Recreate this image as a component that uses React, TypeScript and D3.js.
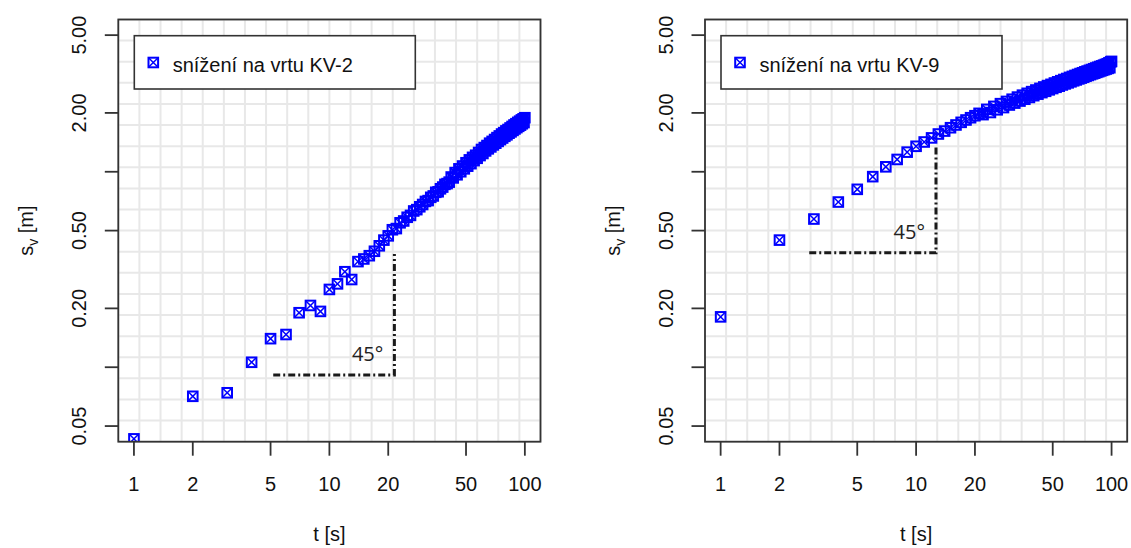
import React from "react";
import * as d3 from "d3";

// ---- data ----
const times: number[] = d3.range(1, 101);

const kv2Values: number[] = [
  0.043, 0.071, 0.074, 0.106, 0.140, 0.147, 0.190, 0.207, 0.193, 0.250,
  0.267, 0.308, 0.281, 0.347, 0.358, 0.372, 0.392, 0.418, 0.447, 0.470,
  0.505, 0.512, 0.548, 0.560, 0.585, 0.598, 0.630, 0.640, 0.662, 0.680,
  0.705, 0.712, 0.740, 0.752, 0.785, 0.790, 0.818, 0.835, 0.862, 0.870,
  0.885, 0.940, 0.930, 0.990, 0.965, 1.035, 1.000, 1.070, 1.035, 1.112,
  1.068, 1.150, 1.100, 1.185, 1.140, 1.215, 1.172, 1.255, 1.210, 1.300,
  1.240, 1.330, 1.278, 1.362, 1.310, 1.400, 1.340, 1.430, 1.372, 1.462,
  1.400, 1.495, 1.430, 1.525, 1.460, 1.560, 1.488, 1.585, 1.518, 1.618,
  1.545, 1.645, 1.575, 1.675, 1.600, 1.705, 1.628, 1.735, 1.655, 1.762,
  1.682, 1.790, 1.708, 1.815, 1.732, 1.842, 1.760, 1.866, 1.785, 1.890,
];

const kv9Values: number[] = [
  0.181, 0.447, 0.573, 0.700, 0.813, 0.944, 1.060, 1.156, 1.260, 1.350,
  1.420, 1.490, 1.560, 1.615, 1.680, 1.735, 1.790, 1.840, 1.890, 1.935,
  1.990, 1.960, 2.085, 2.010, 2.160, 2.075, 2.230, 2.130, 2.290, 2.195,
  2.350, 2.245, 2.410, 2.300, 2.465, 2.350, 2.520, 2.400, 2.570, 2.450,
  2.620, 2.495, 2.670, 2.540, 2.715, 2.580, 2.760, 2.625, 2.800, 2.665,
  2.845, 2.705, 2.885, 2.740, 2.925, 2.780, 2.965, 2.815, 3.000, 2.850,
  3.040, 2.885, 3.075, 2.920, 3.110, 2.950, 3.145, 2.985, 3.180, 3.015,
  3.210, 3.045, 3.245, 3.080, 3.275, 3.110, 3.305, 3.140, 3.335, 3.170,
  3.365, 3.195, 3.395, 3.225, 3.425, 3.250, 3.455, 3.280, 3.480, 3.305,
  3.510, 3.330, 3.540, 3.355, 3.570, 3.380, 3.610, 3.405, 3.650, 3.670,
];

const xTicks: number[] = [1, 2, 5, 10, 20, 50, 100];
const yTicks: number[] = [0.05, 0.1, 0.2, 0.5, 1, 2, 5];
const yTickLabels: string[] = ["0.05", "", "0.20", "0.50", "", "2.00", "5.00"];

const legendLabels: string[] = ["snížení na vrtu KV-2", "snížení na vrtu KV-9"];
// 45° guide: [t start, t corner, s bottom, s top]
const guideKV2: number[] = [5.16, 21.5, 0.0913, 0.38];
const guideKV9: number[] = [2.84, 12.64, 0.385, 1.355];

const FONT = "'Liberation Sans', Arial, Helvetica, sans-serif";
const BLUE = "#0000ff";

function Marker({ cx, cy }: { cx: number; cy: number }) {
  const h = 4.8;
  return (
    <g transform={`translate(${cx},${cy})`} stroke={BLUE} strokeWidth={2} fill="none">
      <rect x={-h} y={-h} width={2 * h} height={2 * h} />
      <line x1={-h} y1={-h} x2={h} y2={h} strokeWidth={1.5} />
      <line x1={-h} y1={h} x2={h} y2={-h} strokeWidth={1.5} />
    </g>
  );
}

function Panel({
  left,
  values,
  label,
  guide,
  id,
}: {
  left: number;
  values: number[];
  label: string;
  guide: number[];
  id: string;
}) {
  const x0 = left;
  const x1 = left + 422.2;
  const y0 = 19.5;
  const y1 = 441.7;
  const ext = Math.pow(10, 0.08);
  const x = d3.scaleLog().domain([1 / ext, 100 * ext]).range([x0, x1]);
  const y = d3.scaleLog().domain([0.05 / ext, 5 * ext]).range([y1, y0]);

  const gridN = 20;
  const gx = d3.range(gridN + 1).map((i) => x0 + (i * (x1 - x0)) / gridN);
  const gy = d3.range(gridN + 1).map((i) => y0 + (i * (y1 - y0)) / gridN);

  const gxs = x(guide[0]);
  const gxc = x(guide[1]);
  const gyb = y(guide[2]);
  const gyt = y(guide[3]);

  return (
    <g>
      <defs>
        <clipPath id={id}>
          <rect x={x0} y={y0} width={x1 - x0} height={y1 - y0} />
        </clipPath>
      </defs>
      {/* grid */}
      <g stroke="#e8e8e8" strokeWidth={2}>
        {gx.map((v, i) => (
          <line key={"gx" + i} x1={v} x2={v} y1={y0} y2={y1} />
        ))}
        {gy.map((v, i) => (
          <line key={"gy" + i} x1={x0} x2={x1} y1={v} y2={v} />
        ))}
      </g>
      {/* points */}
      <g clipPath={`url(#${id})`}>
        {times.map((t, i) => (
          <Marker key={i} cx={x(t)} cy={y(values[i])} />
        ))}
      </g>
      {/* 45 degree guide */}
      <path
        d={`M${gxs},${gyb}L${gxc},${gyb}L${gxc},${gyt}`}
        fill="none"
        stroke="#1a1a1a"
        strokeWidth={3}
        strokeDasharray="7,3,2,3"
      />
      <text
        x={gxc - 11}
        y={gyb - 13.5}
        textAnchor="end"
        fontFamily="'Open Sans', 'Noto Sans', sans-serif"
        fontSize={20}
        fill="#222"
      >
        45°
      </text>
      {/* box */}
      <rect x={x0} y={y0} width={x1 - x0} height={y1 - y0} fill="none" stroke="#333" strokeWidth={1.8} />
      {/* x axis */}
      <g stroke="#333" strokeWidth={1.8}>
        {xTicks.map((t) => (
          <line key={t} x1={x(t)} x2={x(t)} y1={y1} y2={y1 + 14} />
        ))}
      </g>
      {xTicks.map((t) => (
        <text key={t} x={x(t)} y={490.5} textAnchor="middle" fontFamily={FONT} fontSize={20} fill="#111">
          {String(t)}
        </text>
      ))}
      <text x={(x0 + x1) / 2} y={541} textAnchor="middle" fontFamily={FONT} fontSize={20} fill="#111">
        t [s]
      </text>
      {/* y axis */}
      <g stroke="#333" strokeWidth={1.8}>
        {yTicks.map((v) => (
          <line key={v} x1={x0 - 13.5} x2={x0} y1={y(v)} y2={y(v)} />
        ))}
      </g>
      {yTicks.map((v, i) =>
        yTickLabels[i] ? (
          <text
            key={v}
            transform={`translate(${x0 - 32},${y(v)}) rotate(-90)`}
            textAnchor="middle"
            fontFamily={FONT}
            fontSize={20}
            fill="#111"
          >
            {yTickLabels[i]}
          </text>
        ) : null
      )}
      <text
        transform={`translate(${x0 - 85},${(y0 + y1) / 2}) rotate(-90)`}
        textAnchor="middle"
        fontFamily={FONT}
        fontSize={20}
        fill="#111"
      >
        s<tspan fontSize={14} dy={5}>v</tspan>
        <tspan dy={-5}> [m]</tspan>
      </text>
      {/* legend */}
      <rect x={x0 + 16} y={35.7} width={281} height={53.3} fill="#fff" stroke="#333" strokeWidth={1.6} />
      <Marker cx={x0 + 35} cy={62.5} />
      <text x={x0 + 54.4} y={71.5} fontFamily={FONT} fontSize={20} fill="#111">
        {label}
      </text>
    </g>
  );
}

export default function App() {
  return (
    <svg
      width={1131}
      height={548}
      style={{ position: "absolute", left: 0, top: 0, background: "#fff" }}
    >
      <rect width={1131} height={548} fill="#fff" />
      <Panel left={118.3} values={kv2Values} label={legendLabels[0]} guide={guideKV2} id="clipA" />
      <Panel left={705} values={kv9Values} label={legendLabels[1]} guide={guideKV9} id="clipB" />
    </svg>
  );
}
